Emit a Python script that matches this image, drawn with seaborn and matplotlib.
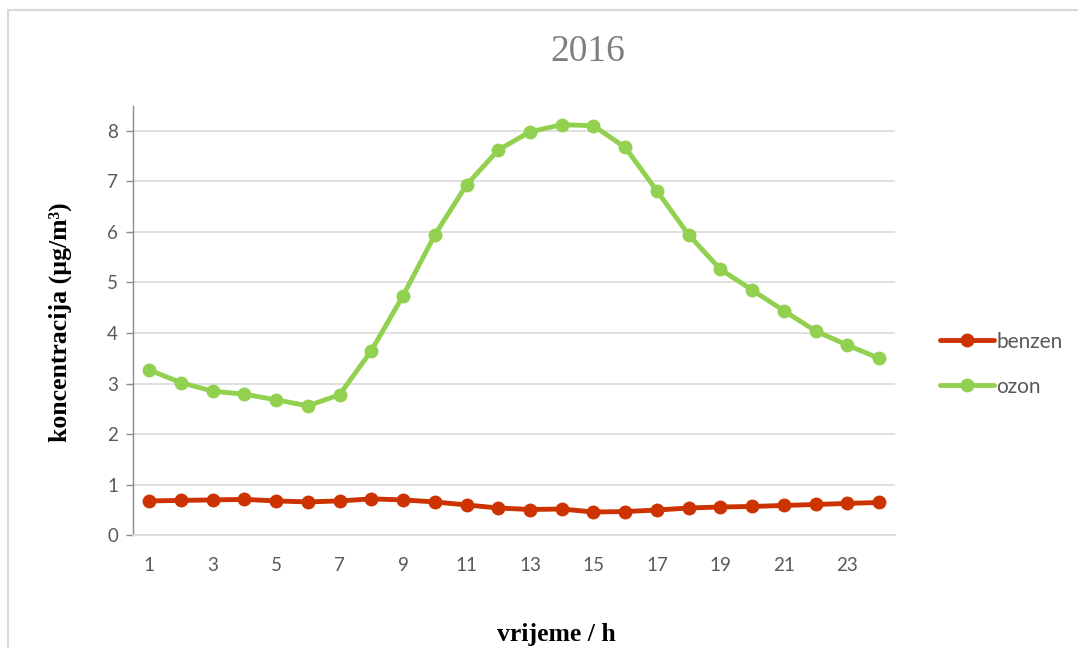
import numpy as np
import pandas as pd
import matplotlib
matplotlib.use("Agg")
import matplotlib.pyplot as plt
import matplotlib.patches as patches
import seaborn as sns

# podaci ocitani s grafa
sati = list(range(1, 25))
benzen = [0.68, 0.69, 0.70, 0.71, 0.68, 0.66, 0.68, 0.72, 0.70, 0.66, 0.60, 0.54,
          0.51, 0.52, 0.46, 0.47, 0.50, 0.54, 0.56, 0.57, 0.59, 0.61, 0.63, 0.65]
ozon = [3.27, 3.02, 2.85, 2.79, 2.68, 2.56, 2.78, 3.65, 4.74, 5.94, 6.93, 7.62,
        7.98, 8.12, 8.10, 7.67, 6.81, 5.94, 5.26, 4.85, 4.44, 4.04, 3.76, 3.50]
serije = ["benzen", "ozon"]
boje = {"benzen": "#CC3300", "ozon": "#92D050"}
x_oznake = list(range(1, 24, 2))
y_oznake = list(range(0, 9))

df = pd.DataFrame({
    "sat": sati * 2,
    "koncentracija": benzen + ozon,
    "serija": ["benzen"] * len(sati) + ["ozon"] * len(sati),
})

sns.set_style("white")
plt.rcParams["font.family"] = ["Lato", "DejaVu Sans"]

fig = plt.figure(figsize=(10.78, 6.48), dpi=100)
ax = fig.add_axes([133.3 / 1078, 1 - 535.3 / 648, (895 - 133.3) / 1078, (535.3 - 106) / 648])

sns.lineplot(data=df, x="sat", y="koncentracija", hue="serija", hue_order=serije,
             palette=boje, marker="o", markersize=10, markeredgewidth=0,
             linewidth=3.5, ax=ax, legend=False, zorder=3)

ax.set_xlim(0.5, 24.5)
ax.set_ylim(0, 8.49)
ax.set_xticks(x_oznake)
ax.set_yticks(y_oznake)
ax.yaxis.grid(True, color="#d9d9d9", linewidth=1.2)
ax.set_axisbelow(True)

for s in ["top", "right"]:
    ax.spines[s].set_visible(False)
ax.spines["left"].set_color("#8c8c8c")
ax.spines["left"].set_linewidth(1.0)
ax.spines["bottom"].set_color("#d9d9d9")
ax.spines["bottom"].set_linewidth(1.2)

ax.tick_params(axis="y", left=True, length=5, width=1, color="#8c8c8c",
               labelsize=13.5, labelcolor="#595959", pad=6)
ax.tick_params(axis="x", bottom=False, labelsize=13.5, labelcolor="#595959", pad=12)

ax.set_xlabel("")
ax.set_ylabel("")

serif = ["Liberation Serif", "DejaVu Serif"]
fig.text(588 / 1078, 1 - 52 / 648, "2016", ha="center", va="center",
         fontsize=27, color="#7f7f7f", family=serif)
fig.text(60 / 1078, 1 - 322 / 648, "koncentracija (µg/m³)", ha="center", va="center",
         rotation=90, fontsize=18.5, fontweight="bold", color="black", family=serif)
fig.text(556 / 1078, 1 - 634 / 648, "vrijeme / h", ha="center", va="center",
         fontsize=18.5, fontweight="bold", color="black", family=serif)

# legenda
rucke = [plt.Line2D([], [], color=boje[s], linewidth=3.5, marker="o", markersize=10,
                    markeredgewidth=0) for s in serije]
fig.legend(rucke, serije, loc="center left", bbox_to_anchor=(921 / 1078, 1 - 364 / 648),
           frameon=False, fontsize=15, labelcolor="#595959", handlelength=2.6,
           handletextpad=0.1, labelspacing=1.2)

# okvir grafa
okvir = patches.Rectangle((8 / 1078, -0.1), 1.1, 1 - 10 / 648 + 0.1,
                          transform=fig.transFigure, fill=False,
                          edgecolor="#d9d9d9", linewidth=1.5, clip_on=False)
fig.add_artist(okvir)

fig.savefig("out.png", dpi=100)
